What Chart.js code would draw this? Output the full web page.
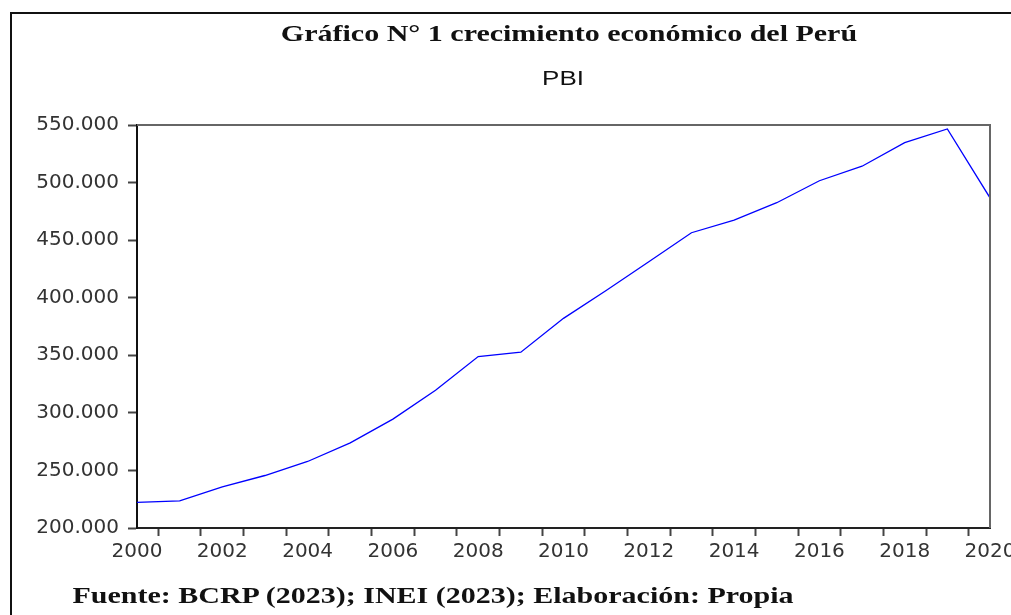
<!DOCTYPE html>
<html>
<head>
<meta charset="utf-8">
<script src="https://cdn.jsdelivr.net/npm/chart.js@4.4.1/dist/chart.umd.min.js"></script>
<style>
    html, body { margin: 0; padding: 0; background: #fff; }
    #wrap { position: relative; width: 1011px; height: 615px; overflow: hidden; }
    #frame { position: absolute; left: 10px; top: 12px; width: 1100px; height: 700px; border-left: 2px solid #111; border-top: 2px solid #111; }
    .txt { position: absolute; white-space: nowrap; color: #111; transform: translate(-50%, -50%) scaleX(1.25); }
    #title { left: 569px; top: 33px; font: bold 24px "Liberation Serif", serif; }
    #subtitle { left: 563px; top: 78px; font: 20px "Liberation Sans", sans-serif; transform: translate(-50%, -50%) scaleX(1.3); }
    #source { left: 433px; top: 595px; font: bold 24px "Liberation Serif", serif; }
    canvas { position: absolute; left: 0; top: 0; }
</style>
</head>
<body>
<div id="wrap">
    <canvas id="chart" width="1011" height="615"></canvas>
    <div id="frame"></div>
    <div class="txt" id="title">Gráfico N° 1 crecimiento económico del Perú</div>
    <div class="txt" id="subtitle">PBI</div>
    <div class="txt" id="source">Fuente: BCRP (2023); INEI (2023); Elaboración: Propia</div>
</div>
<script>
const years = [2000, 2001, 2002, 2003, 2004, 2005, 2006, 2007, 2008, 2009, 2010,
               2011, 2012, 2013, 2014, 2015, 2016, 2017, 2018, 2019, 2020];
const pbi = [222207, 223580, 235773, 245593, 257770, 273971, 294598, 319693, 348870, 352693, 382081,
             406256, 431199, 456435, 467308, 482506, 501581, 514215, 534626, 546605, 486737];
const yTicks = [200000, 250000, 300000, 350000, 400000, 450000, 500000, 550000];

const formatMiles = (v) => String(Math.round(v / 1000)) + '.000';

// tick marks sit between the years, labels on even years
const xTicks = [];
years.forEach(y => {
    if (y % 2 === 0) xTicks.push({value: y});
    if (y < years[years.length - 1]) xTicks.push({value: y + 0.5});
});

const boxLines = {
    id: 'boxLines',
    afterDraw(chart) {
        const {ctx, chartArea} = chart;
        ctx.save();
        ctx.strokeStyle = '#666';
        ctx.lineWidth = 2;
        ctx.beginPath();
        ctx.moveTo(chartArea.left, chartArea.top);
        ctx.lineTo(chartArea.right, chartArea.top);
        ctx.lineTo(chartArea.right, chartArea.bottom);
        ctx.stroke();
        ctx.restore();
    }
};

const ctx = document.getElementById('chart').getContext('2d');

new Chart(ctx, {
    type: 'line',
    data: {
        datasets: [{
            data: years.map((y, i) => ({x: y, y: pbi[i]})),
            borderColor: '#0000ff',
            borderWidth: 1.3,
            pointRadius: 0,
            tension: 0,
            fill: false,
        }],
    },
    options: {
        responsive: false,
        animation: false,
        layout: {
            padding: {left: 0, right: 21, top: 125, bottom: 47},
        },
        scales: {
            x: {
                type: 'linear',
                min: 2000,
                max: 2020,
                afterBuildTicks: (scale) => { scale.ticks = xTicks.map(t => ({value: t.value})); },
                afterFit: (scale) => { scale.height = 40; scale.paddingLeft = 0; scale.paddingRight = 0; },
                border: {color: '#222', width: 2},
                grid: {
                    drawOnChartArea: false,
                    tickLength: 8,
                    tickWidth: 2,
                    tickColor: (c) => Number.isInteger(c.tick.value) ? 'rgba(0,0,0,0)' : '#444',
                },
                ticks: {
                    autoSkip: false,
                    maxRotation: 0,
                    padding: 4,
                    color: '#333',
                    font: {family: 'DejaVu Sans', size: 20},
                    callback: (v) => Number.isInteger(v) ? String(v) : '',
                },
            },
            y: {
                min: 200000,
                max: 550000,
                afterBuildTicks: (scale) => { scale.ticks = yTicks.map(v => ({value: v})); },
                afterFit: (scale) => { scale.width = 137; scale.paddingTop = 0; scale.paddingBottom = 0; },
                border: {color: '#111', width: 2},
                grid: {
                    drawOnChartArea: false,
                    tickLength: 9,
                    tickWidth: 2,
                    tickColor: '#444',
                },
                ticks: {
                    padding: 9,
                    color: '#333',
                    font: {family: 'DejaVu Sans', size: 20},
                    callback: (v) => formatMiles(v),
                },
            },
        },
        plugins: {
            legend: {display: false},
            tooltip: {enabled: false},
        },
    },
    plugins: [boxLines],
});
</script>
</body>
</html>
